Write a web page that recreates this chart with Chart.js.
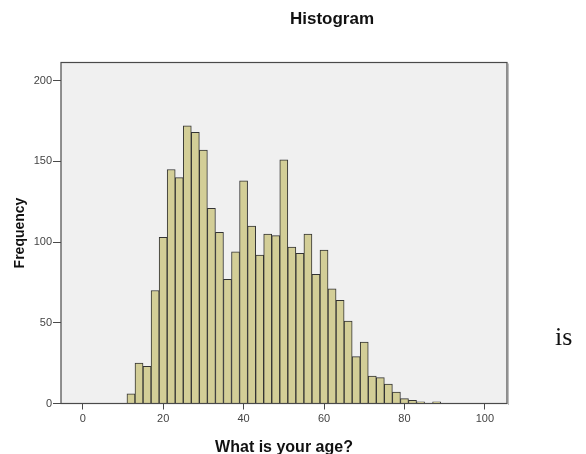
<!DOCTYPE html>
<html lang="en">

<head>
    <meta charset="UTF-8">
    <title>Histogram</title>
    <script src="https://cdn.jsdelivr.net/npm/chart.js@4.4.0/dist/chart.umd.min.js"></script>
    <style>
        body { margin: 0; background: #fff; }
        #wrap { position: relative; width: 586px; height: 454px; overflow: hidden; }
        #title {
            position: absolute; left: 232px; top: 10px; width: 200px; text-align: center;
            font: bold 17px 'Liberation Sans', Arial, sans-serif; line-height: 17px; color: #111;
        }
        #side {
            position: absolute; left: 555px; top: 324px;
            font: 26px 'Liberation Serif', 'Times New Roman', serif; line-height: 26px; color: #111;
        }
    </style>
</head>

<body>
    <div id="wrap">
        <canvas id="hist" width="586" height="454"></canvas>
        <div id="title">Histogram</div>
        <div id="side">is</div>
    </div>
    <script>
        // bin centres (width 2) and counts
        var ages = [12, 14, 16, 18, 20, 22, 24, 26, 28, 30, 32, 34, 36, 38, 40, 42, 44, 46, 48, 50,
            52, 54, 56, 58, 60, 62, 64, 66, 68, 70, 72, 74, 76, 78, 80, 82, 84, 86, 88];
        var counts = [6, 25, 23, 70, 103, 145, 140, 172, 168, 157, 121, 106, 77, 94, 138, 110, 92, 105, 104, 151,
            97, 93, 105, 80, 95, 71, 64, 51, 29, 38, 17, 16, 12, 7, 3, 2, 1, 0, 1];
        var xTicks = [0, 20, 40, 60, 80, 100];
        var yTicks = [0, 50, 100, 150, 200];

        var points = [];
        for (let i = 0; i < ages.length; i++) {
            points.push({ x: ages[i], y: counts[i] });
        }

        var frame = {
            id: 'frame',
            beforeDatasetsDraw(chart) {
                const a = chart.chartArea;
                const ctx = chart.ctx;
                ctx.save();
                ctx.fillStyle = '#f0f0f0';
                ctx.fillRect(a.left, a.top, a.right - a.left, a.bottom - a.top);
                ctx.restore();
            },
            afterDatasetsDraw(chart) {
                const a = chart.chartArea;
                const ctx = chart.ctx;
                ctx.save();
                ctx.strokeStyle = '#bdbdbd';
                ctx.lineWidth = 1;
                ctx.beginPath();
                ctx.moveTo(a.right + 1.5, a.top + 1);
                ctx.lineTo(a.right + 1.5, a.bottom + 1.5);
                ctx.stroke();
                ctx.strokeStyle = '#4a4a4a';
                ctx.lineWidth = 1.2;
                ctx.strokeRect(a.left, a.top, a.right - a.left, a.bottom - a.top);
                ctx.restore();
            }
        };

        Chart.defaults.font.family = "'Liberation Sans', Arial, sans-serif";

        new Chart("hist", {
            type: 'bar',
            data: {
                datasets: [{
                    data: points,
                    backgroundColor: '#d3ce97',
                    borderColor: '#333333',
                    borderWidth: 1,
                    barPercentage: 1,
                    categoryPercentage: 1
                }]
            },
            options: {
                responsive: false,
                animation: false,
                layout: { padding: { left: 0, right: 79, top: 62.5, bottom: 0 } },
                plugins: {
                    legend: { display: false },
                    tooltip: { enabled: false }
                },
                scales: {
                    x: {
                        type: 'linear',
                        min: -5.4,
                        max: 105.5,
                        offset: false,
                        afterFit: function (s) { s.height = 50.5; },
                        afterBuildTicks: function (s) { s.ticks = xTicks.map(v => ({ value: v })); },
                        grid: { offset: false, drawOnChartArea: false, drawTicks: true, tickLength: 6, color: '#4a4a4a' },
                        border: { display: false },
                        ticks: { padding: 3, color: '#444', font: { size: 11 }, maxRotation: 0 },
                        title: {
                            display: true, text: 'What is your age?', color: '#111',
                            font: { size: 16, weight: 'bold' }, padding: { top: 0, bottom: -3 }
                        }
                    },
                    y: {
                        min: 0,
                        max: 211.3,
                        afterFit: function (s) { s.width = 61; },
                        afterBuildTicks: function (s) { s.ticks = yTicks.map(v => ({ value: v })); },
                        grid: { drawOnChartArea: false, drawTicks: true, tickLength: 8, color: '#4a4a4a' },
                        border: { display: false },
                        ticks: { padding: 1, color: '#444', font: { size: 11 } },
                        title: {
                            display: true, text: 'Frequency', color: '#111',
                            font: { size: 14, weight: 'bold' }, padding: { top: 12, bottom: 0 }
                        }
                    }
                }
            },
            plugins: [frame]
        });
    </script>
</body>

</html>
